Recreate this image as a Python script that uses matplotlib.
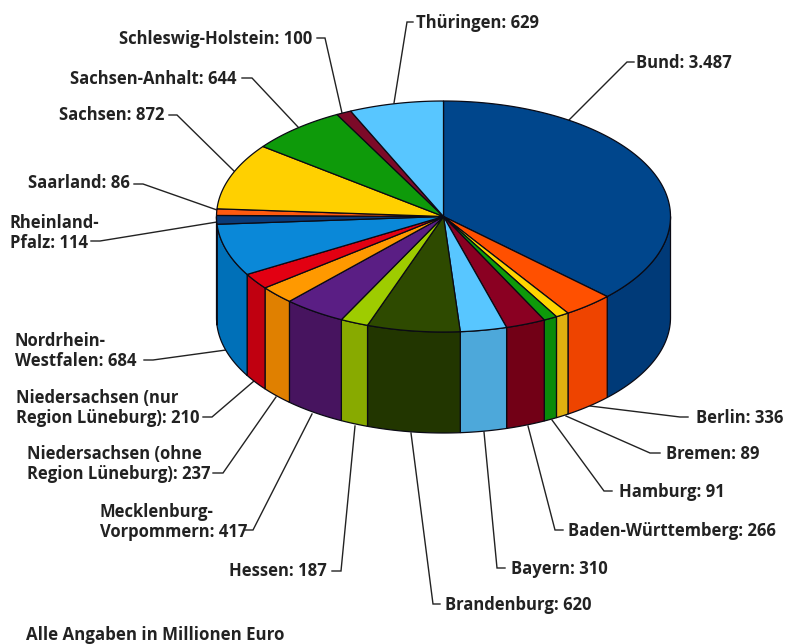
import numpy as np
import matplotlib
matplotlib.use('Agg')
from matplotlib import pyplot as plt
from matplotlib.patches import Polygon

plt.rcParams['font.family'] = ['Open Sans', 'DejaVu Sans']

names = ['Bund', 'Berlin', 'Bremen', 'Hamburg', 'Baden-Württemberg', 'Bayern',
         'Brandenburg', 'Hessen', 'Mecklenburg-\nVorpommern',
         'Niedersachsen (ohne\nRegion Lüneburg)', 'Niedersachsen (nur\nRegion Lüneburg)',
         'Nordrhein-\nWestfalen', 'Rheinland-\nPfalz', 'Saarland', 'Sachsen',
         'Sachsen-Anhalt', 'Schleswig-Holstein', 'Thüringen']
values = [3487, 336, 89, 91, 266, 310, 620, 187, 417, 237, 210, 684, 114, 86, 872, 644, 100, 629]
top_colors = ['#00468C', '#FF5000', '#FFD500', '#0E9A0A', '#8A0022', '#58C6FF',
              '#2E4A00', '#9ECC00', '#5A1E84', '#FF9900', '#E20012', '#0A88D8',
              '#0A3A78', '#FF5A10', '#FFD000', '#0E9A0A', '#7C0A28', '#58C6FF']
side_colors = ['#003A78', '#EE4400', '#E0B010', '#0A8A0A', '#720016', '#4DA8DA',
               '#223600', '#88AA00', '#47145F', '#E08000', '#C00010', '#0070B8',
               '#06305F', '#D84808', '#E0B010', '#0A8A0A', '#600820', '#4DA8DA']

# label anchor (x, y, ha) and leader line from the rim out to the label
label_pos = [(636, 63, 'left'), (696, 418, 'left'), (666, 454, 'left'), (619, 492, 'left'),
             (568, 531, 'left'), (511, 569, 'left'), (445, 605, 'left'), (327, 571, 'right'),
             (100, 522, 'left'), (27, 464, 'left'), (16, 408, 'left'), (15, 351, 'left'),
             (10, 233, 'left'), (130, 183, 'right'), (164, 115, 'right'), (237, 79, 'right'),
             (312, 39, 'right'), (416, 23, 'left')]
leaders = [[(568, 121), (627, 62), (634, 62)], [(590, 406), (680, 417), (688, 417)],
           [(566, 416), (650, 453), (660, 453)], [(552, 420), (604, 491), (612, 491)],
           [(528, 426), (555, 530), (563, 530)], [(484, 432), (497, 568), (505, 568)],
           [(411, 433), (433, 604), (440, 604)], [(355, 426), (341, 571), (332, 571)],
           [(312, 414), (253, 530), (245, 530)], [(276, 397), (223, 473), (213, 473)],
           [(254, 381), (212, 417), (203, 417)], [(226, 350), (153, 360), (144, 360)],
           [(217, 222), (100, 241), (91, 241)], [(217, 210), (143, 184), (134, 184)],
           [(234, 171), (177, 115), (169, 115)], [(298, 127), (252, 78), (242, 78)],
           [(342, 113), (325, 38), (317, 38)], [(394, 103), (407, 22), (413, 22)]]

cx, cy = 443.5, 216.5
rx, ry = 227, 115.5
depth = 101


def rim(a):
    # a in degrees, clockwise from twelve o'clock
    t = np.radians(a)
    return cx + rx * np.sin(t), cy - ry * np.cos(t)


fig = plt.figure(figsize=(7.97, 6.44), dpi=100)
ax = fig.add_axes([0, 0, 1, 1])
ax.set_xlim(0, 797)
ax.set_ylim(644, 0)
ax.axis('off')

edges = np.concatenate([[0], np.cumsum(values)]) / sum(values) * 360

# side wall, only the part facing the viewer (90 to 270 degrees)
for i in range(len(values)):
    a0, a1 = max(edges[i], 90), min(edges[i + 1], 270)
    if a1 <= a0:
        continue
    xs, ys = rim(np.linspace(a0, a1, 80))
    pts = np.concatenate([np.column_stack([xs, ys]),
                          np.column_stack([xs[::-1], ys[::-1] + depth])])
    ax.add_patch(Polygon(pts, closed=True, facecolor=side_colors[i],
                         edgecolor='#0A0A14', linewidth=0.9, zorder=2))

# top face
for i in range(len(values)):
    xs, ys = rim(np.linspace(edges[i], edges[i + 1], 120))
    pts = np.concatenate([[(cx, cy)], np.column_stack([xs, ys])])
    ax.add_patch(Polygon(pts, closed=True, facecolor=top_colors[i],
                         edgecolor='#0A0A14', linewidth=0.9, zorder=3))

for i in range(len(values)):
    xs, ys = zip(*leaders[i])
    ax.plot(xs, ys, color='#222222', linewidth=1.0, zorder=1, solid_joinstyle='miter')
    value_text = f'{values[i]:,}'.replace(',', '.')
    x, y, ha = label_pos[i]
    ax.text(x, y, f'{names[i]}: {value_text}', ha=ha, va='center', fontsize=12,
            fontweight='bold', color='#222222', linespacing=1.12)

ax.text(26, 635, 'Alle Angaben in Millionen Euro', ha='left', va='center', fontsize=12.2,
        fontweight='bold', color='#222222')

fig.savefig('out.png', dpi=100)
